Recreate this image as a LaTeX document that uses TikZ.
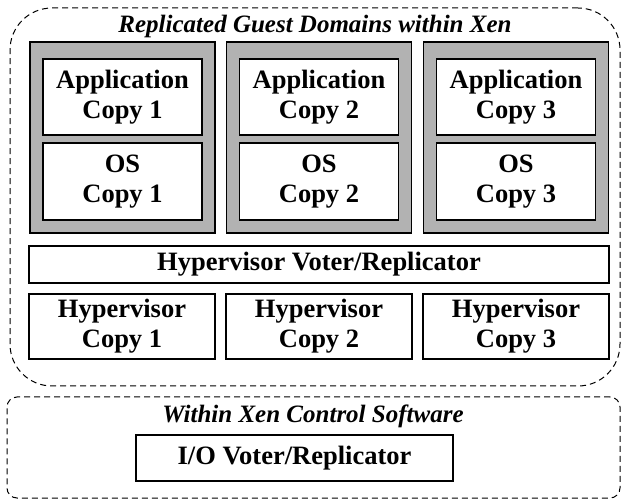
\documentclass[tikz,border=0pt]{standalone}
\usepackage{fontspec}
\setmainfont{Liberation Serif}
\usepackage{tikz}
\usetikzlibrary{shapes,positioning}
\tikzset{wbox/.style={rectangle,draw,fill=white,line width=1.3pt,inner sep=0pt,align=center,font=\fontsize{26.5}{30}\selectfont\bfseries},
         gbox/.style={rectangle,draw,fill=black!30,line width=1.3pt,inner sep=0pt},
         grp/.style={rectangle,draw,dash pattern=on 6pt off 4pt,line width=1pt,inner sep=0pt},
         ttl/.style={inner sep=0pt,font=\fontsize{25}{28}\selectfont\bfseries\itshape}}

\begin{document}
\begin{tikzpicture}[x=1pt,y=-1pt]
        \useasboundingbox (0,0) rectangle (624,502);

        \node[grp,rounded corners=42pt,minimum width=610pt,minimum height=378pt] (guest)at (315,197) {};
        \node[grp,rounded corners=10pt,minimum width=613pt,minimum height=101pt] (ctrl)at (313.5,447.5) {};
        \node[ttl] (t1)at (315,26) {Replicated Guest Domains within Xen};
        \node[ttl] (t2)at (313,416) {Within Xen Control Software};

        \node[gbox,minimum width=185pt,minimum height=191pt] (g1)at (122.5,137.5) {};
        \node[gbox,minimum width=185pt,minimum height=191pt] (g2)at (319,137.5) {};
        \node[gbox,minimum width=185pt,minimum height=191pt] (g3)at (516,137.5) {};

        \node[wbox,minimum width=159pt,minimum height=76pt] (a1)at (122.5,97) {Application\\Copy 1};
        \node[wbox,minimum width=159pt,minimum height=76pt] (a2)at (319,97) {Application\\Copy 2};
        \node[wbox,minimum width=159pt,minimum height=76pt] (a3)at (516,97) {Application\\Copy 3};
        \node[wbox,minimum width=159pt,minimum height=77pt] (o1)at (122.5,181.5) {OS\\Copy 1};
        \node[wbox,minimum width=159pt,minimum height=77pt] (o2)at (319,181.5) {OS\\Copy 2};
        \node[wbox,minimum width=159pt,minimum height=77pt] (o3)at (516,181.5) {OS\\Copy 3};

        \node[wbox,minimum width=580pt,minimum height=37pt] (hv)at (319,264.5) {Hypervisor Voter/Replicator};

        \node[wbox,minimum width=186pt,minimum height=65pt] (h1)at (122,326.5) {Hypervisor\\Copy 1};
        \node[wbox,minimum width=186pt,minimum height=65pt] (h2)at (319,326.5) {Hypervisor\\Copy 2};
        \node[wbox,minimum width=186pt,minimum height=65pt] (h3)at (516,326.5) {Hypervisor\\Copy 3};

        \node[wbox,minimum width=317pt,minimum height=46pt] (io)at (294.5,458) {I/O Voter/Replicator};
    \end{tikzpicture}
\end{document}
